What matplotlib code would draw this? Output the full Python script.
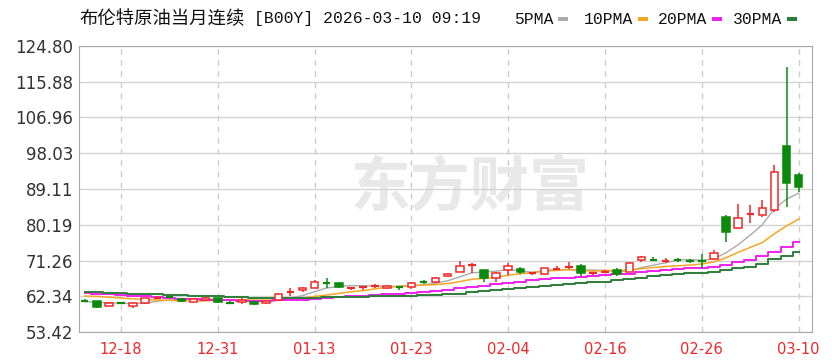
import matplotlib
matplotlib.use('Agg')
import matplotlib.pyplot as plt
from matplotlib.patches import Rectangle

# trading days shown on the chart
dates = ['12-15', '12-16', '12-17', '12-18', '12-19', '12-22', '12-23', '12-24', '12-26', '12-29',
         '12-30', '12-31', '01-02', '01-05', '01-06', '01-07', '01-08', '01-09', '01-12', '01-13',
         '01-14', '01-15', '01-16', '01-19', '01-20', '01-21', '01-22', '01-23', '01-26', '01-27',
         '01-28', '01-29', '01-30', '02-02', '02-03', '02-04', '02-05', '02-06', '02-09', '02-10',
         '02-11', '02-12', '02-13', '02-16', '02-17', '02-18', '02-19', '02-20', '02-23', '02-24',
         '02-25', '02-26', '02-27', '03-02', '03-03', '03-04', '03-05', '03-06', '03-09', '03-10']

opens = [61.3, 61.1, 59.9, 60.8, 59.9, 60.6, 61.9, 62.1, 61.6, 61.0,
         61.5, 61.8, 60.8, 60.9, 60.9, 60.6, 61.4, 63.3, 63.8, 64.5,
         65.7, 65.6, 64.4, 64.5, 64.8, 64.3, 64.8, 64.6, 65.9, 65.8,
         67.4, 68.5, 70.0, 68.9, 66.8, 68.9, 69.1, 68.0, 67.9, 69.0,
         69.6, 69.8, 68.0, 68.4, 68.8, 68.5, 71.3, 71.5, 71.2, 71.5,
         71.3, 71.3, 71.6, 82.2, 79.3, 82.7, 82.6, 83.9, 99.8, 92.6]
highs = [61.6, 61.2, 60.8, 61.0, 60.8, 62.0, 62.3, 62.4, 61.9, 61.8,
         62.2, 61.9, 61.2, 62.0, 61.2, 61.4, 63.2, 64.3, 64.6, 66.4,
         66.8, 65.8, 64.7, 64.8, 65.4, 65.2, 65.0, 65.8, 66.3, 67.2,
         68.1, 71.1, 70.6, 69.0, 68.3, 70.6, 69.6, 68.4, 69.5, 69.8,
         71.0, 70.3, 68.3, 68.9, 69.3, 70.8, 72.3, 72.1, 71.8, 72.0,
         71.6, 72.9, 73.8, 82.7, 85.4, 85.0, 86.4, 95.1, 119.6, 93.2]
lows = [60.9, 59.4, 59.8, 60.5, 59.4, 60.5, 61.6, 61.8, 61.0, 60.8,
        61.3, 60.6, 60.4, 60.3, 60.2, 60.3, 61.2, 62.5, 63.4, 64.3,
        64.3, 64.4, 64.0, 63.8, 64.3, 64.1, 63.9, 64.2, 65.4, 65.6,
        67.2, 68.3, 68.1, 66.0, 66.0, 67.6, 68.0, 67.6, 67.7, 68.9,
        69.2, 67.5, 67.6, 68.2, 67.4, 68.3, 71.0, 71.1, 70.6, 70.9,
        70.6, 69.3, 71.3, 76.0, 79.1, 80.6, 82.2, 83.4, 84.7, 88.4]
closes = [61.2, 59.6, 60.6, 60.6, 60.6, 61.8, 62.1, 62.0, 61.2, 61.6,
          62.0, 60.8, 60.7, 61.5, 60.4, 61.2, 62.8, 63.5, 64.4, 65.8,
          65.5, 64.6, 64.6, 64.7, 64.9, 65.0, 64.6, 65.6, 65.7, 67.0,
          67.9, 70.0, 70.2, 66.8, 68.1, 70.0, 68.3, 68.2, 69.3, 69.2,
          69.8, 68.1, 68.2, 68.6, 67.9, 70.6, 72.1, 71.4, 71.3, 71.4,
          71.2, 71.2, 73.2, 78.5, 81.8, 83.0, 84.3, 93.4, 90.5, 89.5]

ma5 = [61.0, 60.8, 60.7, 60.6, 60.5, 60.6, 61.1, 61.4, 61.5, 61.7,
       61.8, 61.5, 61.3, 61.3, 61.1, 60.9, 61.3, 61.9, 62.5, 63.5,
       64.4, 64.8, 65.0, 65.0, 64.9, 64.8, 64.8, 65.0, 65.2, 65.6,
       66.2, 67.2, 68.2, 68.4, 68.6, 69.0, 68.7, 68.3, 68.8, 69.0,
       69.0, 68.9, 68.9, 68.8, 68.5, 68.7, 69.5, 70.1, 70.7, 71.4,
       71.5, 71.3, 71.7, 73.2, 75.2, 77.6, 80.2, 84.2, 86.6, 88.1]
ma10 = [62.4, 62.3, 62.1, 61.9, 61.7, 61.5, 61.4, 61.3, 61.2, 61.1,
        61.2, 61.3, 61.35, 61.4, 61.4, 61.35, 61.4, 61.6, 61.9, 62.3,
        62.65, 63.05, 63.45, 63.75, 64.2, 64.6, 64.8, 65.0, 65.1, 65.25,
        65.5, 66.0, 66.6, 66.8, 67.1, 67.6, 67.95, 68.25, 68.6, 68.8,
        69.0, 68.8, 68.6, 68.8, 68.75, 68.85, 69.2, 69.5, 69.75, 69.95,
        70.1, 70.4, 70.9, 71.95, 73.3, 74.55, 75.75, 77.95, 79.9, 81.65]
ma20 = [63.1, 63.0, 62.9, 62.7, 62.5, 62.3, 62.1, 61.9, 61.7, 61.6,
        61.5, 61.4, 61.3, 61.2, 61.2, 61.2, 61.3, 61.4, 61.5, 61.7,
        61.9, 62.1, 62.3, 62.5, 62.7, 62.9, 63.0, 63.2, 63.4, 63.6,
        63.9, 64.3, 64.7, 65.0, 65.3, 65.7, 66.0, 66.3, 66.6, 66.8,
        67.0, 67.2, 67.4, 67.6, 67.8, 68.0, 68.4, 68.7, 69.0, 69.2,
        69.4, 69.5, 69.7, 70.2, 70.8, 71.5, 72.3, 73.5, 74.7, 75.9]
ma30 = [63.4, 63.3, 63.2, 63.1, 63.0, 62.9, 62.8, 62.7, 62.6, 62.5,
        62.4, 62.3, 62.2, 62.1, 62.0, 62.0, 62.0, 62.0, 62.0, 62.0,
        62.1, 62.1, 62.2, 62.2, 62.3, 62.3, 62.4, 62.5, 62.6, 62.7,
        62.8, 63.0, 63.3, 63.6, 63.9, 64.2, 64.5, 64.7, 65.0, 65.2,
        65.4, 65.6, 65.8, 66.0, 66.3, 66.6, 67.0, 67.3, 67.6, 67.9,
        68.1, 68.2, 68.5, 68.9, 69.3, 69.7, 70.5, 71.6, 72.5, 73.5]

yticks = [53.42, 62.34, 71.26, 80.19, 89.11, 98.03, 106.96, 115.88, 124.80]
xtick_labels = ['12-18', '12-31', '01-13', '01-23', '02-04', '02-16', '02-26', '03-10']

RED = '#f02828'
GREEN = '#0a8a0a'

fig = plt.figure(figsize=(8.32, 3.62), dpi=100)
ax = fig.add_axes([79 / 832, 30 / 362, 733 / 832, 286 / 362])

x = list(range(len(dates)))

# moving averages
ax.plot(x, ma5, color='#aaaaaa', lw=1, zorder=2)
ax.plot(x, ma10, color='#f5a623', lw=1.1, zorder=2)
ax.plot(x, ma20, color='#f020f0', lw=1.4, drawstyle='steps-mid', zorder=2)
ax.plot(x, ma30, color='#2f7d3a', lw=1.4, drawstyle='steps-mid', zorder=2)

# candles
w = 0.62
for i in x:
    o, h, l, c = opens[i], highs[i], lows[i], closes[i]
    up = c >= o
    col = RED if up else GREEN
    lo_b, hi_b = min(o, c), max(o, c)
    ax.vlines(i, l, lo_b, color=col, lw=1.1, zorder=3)
    ax.vlines(i, hi_b, h, color=col, lw=1.1, zorder=3)
    if hi_b - lo_b < 0.3:
        ax.hlines((o + c) / 2, i - w / 2, i + w / 2, color=col, lw=1.6, zorder=4)
    else:
        ax.add_patch(Rectangle((i - w / 2, lo_b), w, hi_b - lo_b,
                               facecolor='white' if up else col, edgecolor=col,
                               lw=1.1, zorder=4))

ax.set_xlim(-0.47, 60.1)
ax.set_ylim(53.42, 124.80)

ax.set_yticks(yticks)
ax.set_yticklabels(['%.2f' % v for v in yticks], fontsize=12, color='#333333')
xt = [dates.index(d) for d in xtick_labels]
ax.set_xticks(xt)
ax.set_xticklabels(xtick_labels, fontsize=10.5, color=RED)
ax.tick_params(length=0, pad=4)
ax.tick_params(axis='x', pad=7)

ax.grid(axis='y', color='#d4d4d4', lw=1, zorder=0)
for p in xt:
    ax.axvline(p, color='#cccccc', lw=1, ls=(0, (4, 4)), zorder=0)
for s in ax.spines.values():
    s.set_color('#a8a8a8')

# watermark
ax.text(0.533, 0.50, '东方财富', transform=ax.transAxes, ha='center', va='center',
        fontsize=43, fontweight='bold', color='#e8e8e8', zorder=1,
        family=['Noto Sans CJK SC'])

# title and legend
ty = 1 - 19 / 362
mono = ['Liberation Mono', 'Noto Sans CJK SC']
fig.text(79 / 832, ty, '布伦特原油当月连续', fontsize=13.2, va='center', ha='left',
         family=['Noto Sans CJK SC'], color='#111111')
fig.text(254 / 832, ty, '[B00Y] 2026-03-10 09:19', fontsize=11.8, va='center', ha='left',
         family=mono, color='#111111')
legend_items = [('5PMA', '#aaaaaa', 514), ('10PMA', '#f5a623', 584),
                ('20PMA', '#f020f0', 658), ('30PMA', '#2f7d3a', 733)]
for name, col, px in legend_items:
    fig.text(px / 832, ty, name, fontsize=11.8, va='center', ha='left',
             family=mono, color='#111111')
    off = 9.9 * len(name) + 4
    fig.patches.append(Rectangle(((px + off) / 832, 1 - 21 / 362), 10 / 832, 4 / 362,
                                 transform=fig.transFigure, facecolor=col, edgecolor='none'))

fig.savefig('out.png', dpi=100)
